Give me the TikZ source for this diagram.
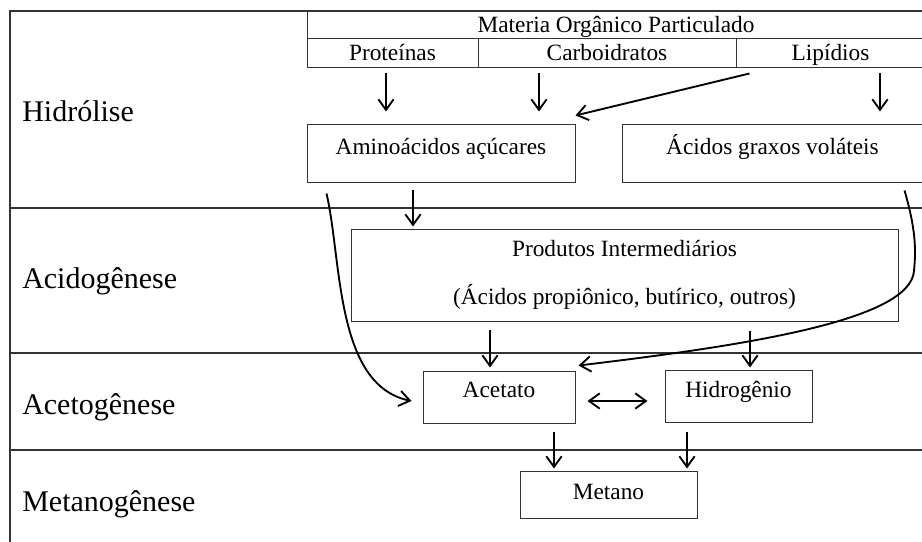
\documentclass[tikz,border=0pt]{standalone}
\usepackage{fontspec}
\setmainfont{Liberation Serif}
\usetikzlibrary{arrows.meta}

\begin{document}
\begin{tikzpicture}[x=0.75pt, y=-0.75pt,
  >={Straight Barb[length=8pt,width=11.5pt]},
  every node/.style={font=\fontsize{17.5}{21}\selectfont},
  caixa/.style={draw=black!80, line width=0.75pt, inner sep=0pt},
  linha/.style={caixa, text height=12pt, text depth=11pt},
  celula/.style={caixa, text height=12pt, text depth=1pt},
  fase/.style={anchor=base west, inner sep=0pt, font=\fontsize{22.5}{27}\selectfont},
  seta/.style={->, line width=1.4pt}]
  \useasboundingbox (0,0) rectangle (922,542);
  \clip (0,0) rectangle (922,542);

  % Frame and stage dividers
  \draw[draw=black!80, line width=0.8pt] (10,560) -- (10,11) -- (940,11);
  \foreach \y in {208,353,450}
    \draw[draw=black!80, line width=0.8pt] (10,\y) -- (940,\y);

  % Stage names
  \node[fase] (hidrolise) at (22,122) {Hidrólise};
  \node[fase] (acidogenese) at (22,288) {Acidogênese};
  \node[fase] (acetogenese) at (22,414) {Acetogênese};
  \node[fase] (metanogenese) at (22,511) {Metanogênese};

  % Particulate matter table
  \node[celula, minimum width=463.5pt, minimum height=21pt] (materia) at (616,25) {Materia Orgânico Particulado};
  \node[celula, minimum width=128.25pt, minimum height=21.75pt] (proteinas) at (392.5,53.5) {Proteínas};
  \node[celula, minimum width=193.5pt, minimum height=21.75pt] (carboidratos) at (607,53.5) {Carboidratos};
  \node[celula, minimum width=141.75pt, minimum height=21.75pt] (lipidios) at (830.5,53.5) {Lipídios};

  % Boxes
  \node[linha, minimum width=201pt, minimum height=42.75pt] (aminoacidos) at (441,153.5) {Aminoácidos açúcares};
  \node[linha, minimum width=225.75pt, minimum height=42.75pt] (acidos) at (772.5,153.5) {Ácidos graxos voláteis};
  \node[caixa, align=center, minimum width=410.25pt, minimum height=69pt] (produtos) at (624.5,275)
    {Produtos Intermediários\\[15.5pt](Ácidos propiônico, butírico, outros)};
  \node[linha, minimum width=114pt, minimum height=39pt] (acetato) at (499,397) {Acetato};
  \node[linha, text depth=10pt, minimum width=110.25pt, minimum height=39pt] (hidrogenio) at (738.5,396) {Hidrogênio};
  \node[linha, text depth=5pt, minimum width=132.75pt, minimum height=35.25pt] (metano) at (608.5,494.5) {Metano};

  % Hydrolysis
  \draw[seta, shorten <=3.75pt, shorten >=9.75pt] (386,0 |- proteinas.south) -- (386,0 |- aminoacidos.north);
  \draw[seta, shorten <=3.75pt, shorten >=9.75pt] (539,0 |- carboidratos.south) -- (539,0 |- aminoacidos.north);
  \draw[seta, shorten <=3.75pt, shorten >=9.75pt] (880,0 |- lipidios.south) -- (880,0 |- acidos.north);
  \draw[seta] ([xshift=10.5pt,yshift=-3.75pt]lipidios.south west) -- ([yshift=6.75pt]aminoacidos.north east);

  % Acidogenesis
  \draw[seta, shorten <=5.25pt, shorten >=1.5pt] (413,0 |- aminoacidos.south) -- (413,0 |- produtos.north);
  \draw[seta] ([xshift=15pt,yshift=-8.25pt]aminoacidos.south west)
    .. controls (342,260) and (335,385) .. ([xshift=-8.25pt,yshift=-3pt]acetato.west);
  \draw[seta] ([xshift=-14.25pt,yshift=-6pt]acidos.south east)
    .. controls (916,230) and (916,250) .. (914,271)
    .. controls (910,320) and (750,345) .. ([xshift=2.25pt,yshift=3.75pt]acetato.north east);

  % Acetogenesis
  \draw[seta, shorten <=6pt, shorten >=2.25pt] (490,0 |- produtos.south) -- (490,0 |- acetato.north);
  \draw[seta, shorten <=6.75pt, shorten >=1.5pt] (750,0 |- produtos.south) -- (750,0 |- hidrogenio.north);
  \draw[seta, <->, shorten <=9pt, shorten >=12.75pt] ([yshift=-3pt]acetato.east) -- ([yshift=-3pt]acetato.east -| hidrogenio.west);

  % Methanogenesis
  \draw[seta, shorten <=6pt, shorten >=1.5pt] (554,0 |- acetato.south) -- (554,0 |- metano.north);
  \draw[seta, shorten <=6.75pt, shorten >=1.5pt] (687,0 |- hidrogenio.south) -- (687,0 |- metano.north);
\end{tikzpicture}
\end{document}
